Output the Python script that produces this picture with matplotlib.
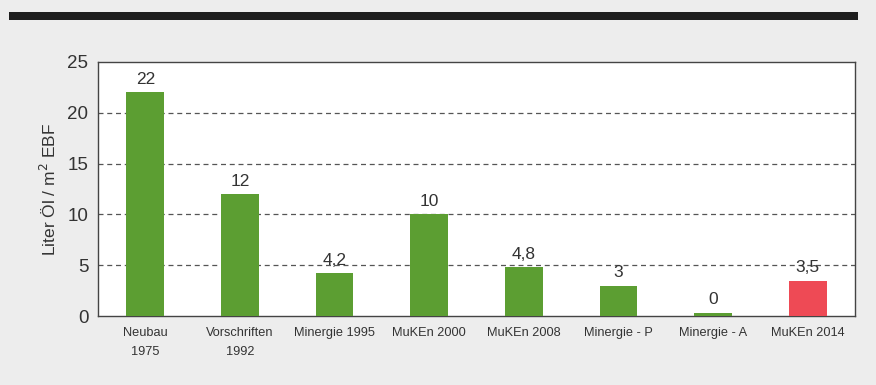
import matplotlib.pyplot as plt
from matplotlib.patches import Rectangle

categories = ['Neubau\n1975', 'Vorschriften\n1992', 'Minergie 1995', 'MuKEn 2000',
              'MuKEn 2008', 'Minergie - P', 'Minergie - A', 'MuKEn 2014']
# drawn bar heights (Minergie - A shows a thin sliver although labelled 0)
heights = [22, 12, 4.2, 10, 4.8, 3, 0.35, 3.5]
value_labels = ['22', '12', '4,2', '10', '4,8', '3', '0', '3,5']
bar_colors = ['#5c9e32'] * 7 + ['#ee4a55']

plt.rcParams['font.family'] = ['Liberation Sans', 'DejaVu Sans']

fig = plt.figure(figsize=(8.76, 3.85), dpi=100, facecolor='#ededed')
ax = fig.add_axes([0.1119, 0.179, 0.8641, 0.660])
ax.set_facecolor('white')

# dark band across the top of the scanned page
fig.add_artist(Rectangle((0.01, 0.948), 0.97, 0.02, transform=fig.transFigure,
                         color='#1e1e1e', lw=0))

x = range(len(categories))
ax.bar(x, heights, width=0.4, color=bar_colors, zorder=3)
for i, (h, t) in enumerate(zip(heights, value_labels)):
    ax.text(i, h + 0.55, t, ha='center', va='bottom', fontsize=12.5, color='#333333', zorder=4)

ax.set_xlim(-0.5, 7.5)
ax.set_ylim(0, 25)
ax.set_yticks([0, 5, 10, 15, 20, 25])
ax.set_xticks(list(x))
ax.set_xticklabels(categories, fontsize=9.2, color='#333333', linespacing=1.75)
ax.tick_params(axis='y', length=0, labelsize=13.5, colors='#333333', pad=7)
ax.tick_params(axis='x', length=0, pad=8)
for v in [5, 10, 15, 20]:
    ax.axhline(v, color='#555555', lw=0.9, ls=(0, (4, 3)), zorder=1)
for s in ax.spines.values():
    s.set_color('#444444')
    s.set_linewidth(1.0)
ax.set_ylabel('Liter Öl / m$^2$ EBF', fontsize=12.5, color='#333333', labelpad=6)

fig.savefig('out.png', dpi=100, facecolor=fig.get_facecolor())
